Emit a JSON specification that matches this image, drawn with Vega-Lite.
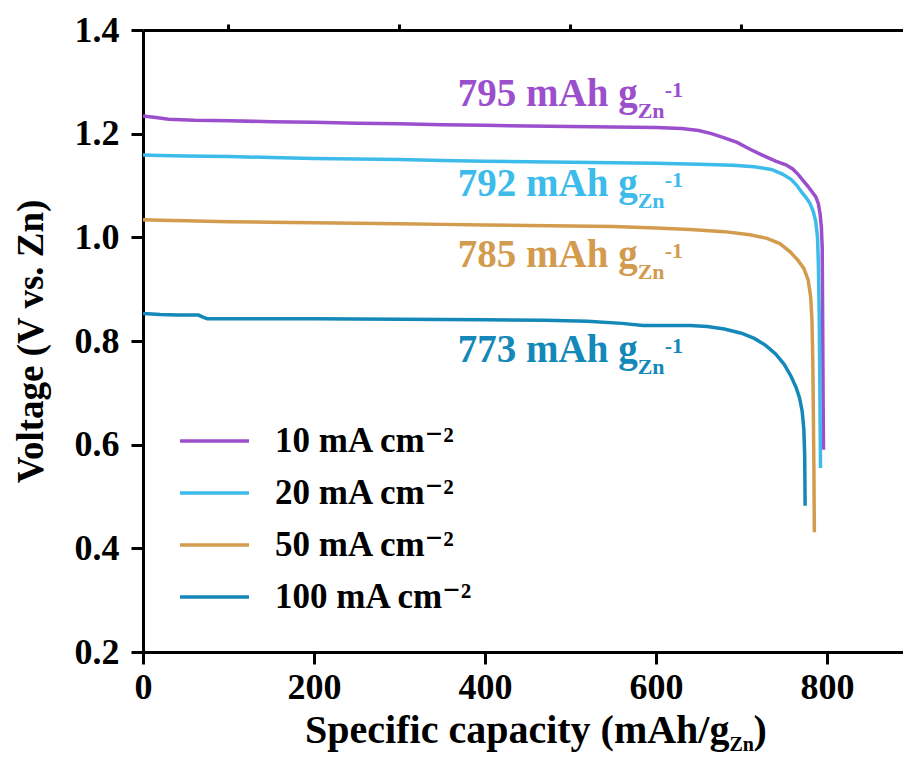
{
  "$schema": "https://vega.github.io/schema/vega-lite/v6.json",
  "width": 760,
  "height": 622,
  "autosize": {"type": "none"},
  "padding": {"left": 143, "top": 30, "right": 0, "bottom": 114},
  "background": "white",
  "config": {
    "view": {"stroke": null},
    "font": "Times New Roman, Liberation Serif, DejaVu Serif, serif",
    "axis": {
      "labelFont": "Times New Roman, Liberation Serif, DejaVu Serif, serif", "labelFontWeight": "bold", "labelColor": "black",
      "titleFont": "Times New Roman, Liberation Serif, DejaVu Serif, serif", "titleFontWeight": "bold", "titleColor": "black",
      "domainColor": "black", "tickColor": "black", "domainWidth": 3, "tickWidth": 3,
      "grid": false, "labelFlush": false
    },
    "text": {"font": "Times New Roman, Liberation Serif, DejaVu Serif, serif", "fontWeight": "bold"}
  },
  "datasets": {
    "curves": [
      {"s":"10 mA cm⁻²","i":1,"x":0,"y":1.234},{"s":"10 mA cm⁻²","i":2,"x":5,"y":1.233},{"s":"10 mA cm⁻²","i":3,"x":15,"y":1.231},{"s":"10 mA cm⁻²","i":4,"x":30,"y":1.228},{"s":"10 mA cm⁻²","i":5,"x":60,"y":1.226},{"s":"10 mA cm⁻²","i":6,"x":100,"y":1.225},{"s":"10 mA cm⁻²","i":7,"x":150,"y":1.223},{"s":"10 mA cm⁻²","i":8,"x":200,"y":1.222},{"s":"10 mA cm⁻²","i":9,"x":250,"y":1.22},{"s":"10 mA cm⁻²","i":10,"x":300,"y":1.219},{"s":"10 mA cm⁻²","i":11,"x":350,"y":1.217},{"s":"10 mA cm⁻²","i":12,"x":400,"y":1.216},{"s":"10 mA cm⁻²","i":13,"x":450,"y":1.215},{"s":"10 mA cm⁻²","i":14,"x":500,"y":1.214},{"s":"10 mA cm⁻²","i":15,"x":550,"y":1.213},{"s":"10 mA cm⁻²","i":16,"x":600,"y":1.212},{"s":"10 mA cm⁻²","i":17,"x":630,"y":1.21},{"s":"10 mA cm⁻²","i":18,"x":650,"y":1.206},{"s":"10 mA cm⁻²","i":19,"x":665,"y":1.2},{"s":"10 mA cm⁻²","i":20,"x":680,"y":1.192},{"s":"10 mA cm⁻²","i":21,"x":695,"y":1.183},{"s":"10 mA cm⁻²","i":22,"x":710,"y":1.17},{"s":"10 mA cm⁻²","i":23,"x":725,"y":1.158},{"s":"10 mA cm⁻²","i":24,"x":740,"y":1.147},{"s":"10 mA cm⁻²","i":25,"x":752,"y":1.14},{"s":"10 mA cm⁻²","i":26,"x":760,"y":1.132},{"s":"10 mA cm⁻²","i":27,"x":766,"y":1.122},{"s":"10 mA cm⁻²","i":28,"x":772,"y":1.11},{"s":"10 mA cm⁻²","i":29,"x":778,"y":1.098},{"s":"10 mA cm⁻²","i":30,"x":783,"y":1.087},{"s":"10 mA cm⁻²","i":31,"x":787,"y":1.078},{"s":"10 mA cm⁻²","i":32,"x":790,"y":1.065},{"s":"10 mA cm⁻²","i":33,"x":792,"y":1.045},{"s":"10 mA cm⁻²","i":34,"x":793.5,"y":1.02},{"s":"10 mA cm⁻²","i":35,"x":794.5,"y":0.98},{"s":"10 mA cm⁻²","i":36,"x":795,"y":0.85},{"s":"10 mA cm⁻²","i":37,"x":795.5,"y":0.7},{"s":"10 mA cm⁻²","i":38,"x":796,"y":0.59},
      {"s":"20 mA cm⁻²","i":1,"x":0,"y":1.159},{"s":"20 mA cm⁻²","i":2,"x":20,"y":1.158},{"s":"20 mA cm⁻²","i":3,"x":50,"y":1.157},{"s":"20 mA cm⁻²","i":4,"x":100,"y":1.156},{"s":"20 mA cm⁻²","i":5,"x":150,"y":1.154},{"s":"20 mA cm⁻²","i":6,"x":200,"y":1.152},{"s":"20 mA cm⁻²","i":7,"x":250,"y":1.151},{"s":"20 mA cm⁻²","i":8,"x":300,"y":1.15},{"s":"20 mA cm⁻²","i":9,"x":350,"y":1.148},{"s":"20 mA cm⁻²","i":10,"x":400,"y":1.147},{"s":"20 mA cm⁻²","i":11,"x":450,"y":1.146},{"s":"20 mA cm⁻²","i":12,"x":500,"y":1.145},{"s":"20 mA cm⁻²","i":13,"x":550,"y":1.144},{"s":"20 mA cm⁻²","i":14,"x":600,"y":1.143},{"s":"20 mA cm⁻²","i":15,"x":650,"y":1.141},{"s":"20 mA cm⁻²","i":16,"x":690,"y":1.139},{"s":"20 mA cm⁻²","i":17,"x":715,"y":1.136},{"s":"20 mA cm⁻²","i":18,"x":735,"y":1.131},{"s":"20 mA cm⁻²","i":19,"x":748,"y":1.122},{"s":"20 mA cm⁻²","i":20,"x":758,"y":1.112},{"s":"20 mA cm⁻²","i":21,"x":765,"y":1.1},{"s":"20 mA cm⁻²","i":22,"x":770,"y":1.088},{"s":"20 mA cm⁻²","i":23,"x":775,"y":1.078},{"s":"20 mA cm⁻²","i":24,"x":780,"y":1.066},{"s":"20 mA cm⁻²","i":25,"x":784,"y":1.05},{"s":"20 mA cm⁻²","i":26,"x":787,"y":1.03},{"s":"20 mA cm⁻²","i":27,"x":789,"y":1.0},{"s":"20 mA cm⁻²","i":28,"x":790,"y":0.95},{"s":"20 mA cm⁻²","i":29,"x":791,"y":0.85},{"s":"20 mA cm⁻²","i":30,"x":791.8,"y":0.7},{"s":"20 mA cm⁻²","i":31,"x":792.5,"y":0.555},
      {"s":"50 mA cm⁻²","i":1,"x":0,"y":1.034},{"s":"50 mA cm⁻²","i":2,"x":20,"y":1.033},{"s":"50 mA cm⁻²","i":3,"x":50,"y":1.032},{"s":"50 mA cm⁻²","i":4,"x":100,"y":1.03},{"s":"50 mA cm⁻²","i":5,"x":150,"y":1.029},{"s":"50 mA cm⁻²","i":6,"x":200,"y":1.028},{"s":"50 mA cm⁻²","i":7,"x":250,"y":1.027},{"s":"50 mA cm⁻²","i":8,"x":300,"y":1.026},{"s":"50 mA cm⁻²","i":9,"x":350,"y":1.025},{"s":"50 mA cm⁻²","i":10,"x":400,"y":1.024},{"s":"50 mA cm⁻²","i":11,"x":450,"y":1.023},{"s":"50 mA cm⁻²","i":12,"x":500,"y":1.022},{"s":"50 mA cm⁻²","i":13,"x":550,"y":1.021},{"s":"50 mA cm⁻²","i":14,"x":600,"y":1.018},{"s":"50 mA cm⁻²","i":15,"x":640,"y":1.015},{"s":"50 mA cm⁻²","i":16,"x":680,"y":1.011},{"s":"50 mA cm⁻²","i":17,"x":710,"y":1.005},{"s":"50 mA cm⁻²","i":18,"x":730,"y":0.998},{"s":"50 mA cm⁻²","i":19,"x":745,"y":0.988},{"s":"50 mA cm⁻²","i":20,"x":757,"y":0.972},{"s":"50 mA cm⁻²","i":21,"x":766,"y":0.956},{"s":"50 mA cm⁻²","i":22,"x":773,"y":0.94},{"s":"50 mA cm⁻²","i":23,"x":778,"y":0.918},{"s":"50 mA cm⁻²","i":24,"x":781,"y":0.885},{"s":"50 mA cm⁻²","i":25,"x":782.5,"y":0.84},{"s":"50 mA cm⁻²","i":26,"x":783.5,"y":0.76},{"s":"50 mA cm⁻²","i":27,"x":784.2,"y":0.65},{"s":"50 mA cm⁻²","i":28,"x":784.8,"y":0.55},{"s":"50 mA cm⁻²","i":29,"x":785.3,"y":0.431},
      {"s":"100 mA cm⁻²","i":1,"x":0,"y":0.853},{"s":"100 mA cm⁻²","i":2,"x":20,"y":0.851},{"s":"100 mA cm⁻²","i":3,"x":40,"y":0.85},{"s":"100 mA cm⁻²","i":4,"x":65,"y":0.85},{"s":"100 mA cm⁻²","i":5,"x":70,"y":0.846},{"s":"100 mA cm⁻²","i":6,"x":75,"y":0.843},{"s":"100 mA cm⁻²","i":7,"x":120,"y":0.843},{"s":"100 mA cm⁻²","i":8,"x":200,"y":0.843},{"s":"100 mA cm⁻²","i":9,"x":300,"y":0.842},{"s":"100 mA cm⁻²","i":10,"x":400,"y":0.841},{"s":"100 mA cm⁻²","i":11,"x":470,"y":0.84},{"s":"100 mA cm⁻²","i":12,"x":520,"y":0.838},{"s":"100 mA cm⁻²","i":13,"x":560,"y":0.834},{"s":"100 mA cm⁻²","i":14,"x":585,"y":0.83},{"s":"100 mA cm⁻²","i":15,"x":610,"y":0.83},{"s":"100 mA cm⁻²","i":16,"x":640,"y":0.83},{"s":"100 mA cm⁻²","i":17,"x":660,"y":0.828},{"s":"100 mA cm⁻²","i":18,"x":680,"y":0.823},{"s":"100 mA cm⁻²","i":19,"x":700,"y":0.815},{"s":"100 mA cm⁻²","i":20,"x":715,"y":0.805},{"s":"100 mA cm⁻²","i":21,"x":728,"y":0.792},{"s":"100 mA cm⁻²","i":22,"x":740,"y":0.775},{"s":"100 mA cm⁻²","i":23,"x":750,"y":0.755},{"s":"100 mA cm⁻²","i":24,"x":758,"y":0.732},{"s":"100 mA cm⁻²","i":25,"x":764,"y":0.71},{"s":"100 mA cm⁻²","i":26,"x":768,"y":0.69},{"s":"100 mA cm⁻²","i":27,"x":771,"y":0.665},{"s":"100 mA cm⁻²","i":28,"x":773,"y":0.63},{"s":"100 mA cm⁻²","i":29,"x":774,"y":0.58},{"s":"100 mA cm⁻²","i":30,"x":774.5,"y":0.482}
    ],
    "notes": [
      {"s":"10 mA cm⁻²","x":578.6,"y":1.2534,"main":"795 mAh g"},
      {"s":"20 mA cm⁻²","x":578.6,"y":1.0797,"main":"792 mAh g"},
      {"s":"50 mA cm⁻²","x":578.6,"y":0.9428,"main":"785 mAh g"},
      {"s":"100 mA cm⁻²","x":578.6,"y":0.7595,"main":"773 mAh g"}
    ],
    "xtitle": [{"x":686,"y":0.0244,"main":"Specific capacity (mAh/g"}],
    "minor": [{"mx":100,"my":0.3}]
  },
  "resolve": {"axis": {"x": "independent", "y": "independent"}},
  "layer": [
    {
      "data": {"name": "curves"},
      "mark": {"type": "line", "strokeWidth": 3.5},
      "encoding": {
        "x": {"field": "x", "type": "quantitative",
          "scale": {"domain": [0, 889], "nice": false, "zero": false},
          "axis": {"values": [0, 200, 400, 600, 800], "tickSize": 12, "labelPadding": 6, "labelFontSize": 36, "title": null}},
        "y": {"field": "y", "type": "quantitative",
          "scale": {"domain": [0.2, 1.4], "nice": false, "zero": false},
          "axis": {"values": [0.2, 0.4, 0.6, 0.8, 1.0, 1.2, 1.4], "format": ".1f", "tickSize": 12, "labelPadding": 12, "labelFontSize": 36,
            "title": "Voltage (V vs. Zn)", "titleFontSize": 37, "titlePadding": 24}},
        "color": {"field": "s", "type": "nominal",
          "scale": {"domain": ["10 mA cm⁻²", "20 mA cm⁻²", "50 mA cm⁻²", "100 mA cm⁻²"], "range": ["#9B4FCC", "#3DBBEA", "#D39B4E", "#1488B8"]},
          "legend": {"orient": "none", "legendX": 35, "legendY": 395, "title": null, "padding": 0,
            "symbolType": "stroke", "symbolSize": 4761, "symbolStrokeWidth": 3.5, "clipHeight": 32, "rowPadding": 17,
            "labelFontSize": 35, "labelFont": "Times New Roman, Liberation Serif, DejaVu Serif, serif", "labelFontWeight": "bold", "labelColor": "black", "labelOffset": 24, "labelLimit": 400}},
        "order": {"field": "i", "type": "quantitative"}
      }
    },
    {
      "data": {"name": "minor"},
      "mark": {"type": "point", "opacity": 0},
      "encoding": {
        "x": {"field": "mx", "type": "quantitative", "axis": {"values": [100, 300, 500, 700], "tickSize": 6, "labels": false, "domain": false, "title": null}},
        "y": {"field": "my", "type": "quantitative", "axis": {"values": [0.3, 0.5, 0.7, 0.9, 1.1, 1.3], "tickSize": 6, "labels": false, "domain": false, "title": null}}
      }
    },
    {
      "data": {"name": "minor"},
      "mark": {"type": "point", "opacity": 0},
      "encoding": {
        "x": {"field": "mx", "type": "quantitative", "axis": {"orient": "top", "ticks": false, "labels": false, "domain": true, "title": null}},
        "y": {"field": "my", "type": "quantitative", "axis": null}
      }
    },
    {
      "data": {"name": "notes"},
      "mark": {"type": "text", "align": "right", "baseline": "alphabetic", "fontSize": 39},
      "encoding": {
        "x": {"field": "x", "type": "quantitative", "axis": null},
        "y": {"field": "y", "type": "quantitative", "axis": null},
        "text": {"field": "main"},
        "color": {"field": "s", "type": "nominal", "legend": null}
      }
    },
    {
      "data": {"name": "notes"},
      "mark": {"type": "text", "align": "left", "baseline": "alphabetic", "fontSize": 22, "dy": 12},
      "encoding": {
        "x": {"field": "x", "type": "quantitative", "axis": null},
        "y": {"field": "y", "type": "quantitative", "axis": null},
        "text": {"value": "Zn"},
        "color": {"field": "s", "type": "nominal", "legend": null}
      }
    },
    {
      "data": {"name": "notes"},
      "mark": {"type": "text", "align": "left", "baseline": "alphabetic", "fontSize": 22, "dx": 27, "dy": -9},
      "encoding": {
        "x": {"field": "x", "type": "quantitative", "axis": null},
        "y": {"field": "y", "type": "quantitative", "axis": null},
        "text": {"value": "-1"},
        "color": {"field": "s", "type": "nominal", "legend": null}
      }
    },
    {
      "data": {"name": "xtitle"},
      "mark": {"type": "text", "align": "right", "baseline": "alphabetic", "fontSize": 40, "color": "black"},
      "encoding": {
        "x": {"field": "x", "type": "quantitative", "axis": null},
        "y": {"field": "y", "type": "quantitative", "axis": null},
        "text": {"field": "main"}
      }
    },
    {
      "data": {"name": "xtitle"},
      "mark": {"type": "text", "align": "left", "baseline": "alphabetic", "fontSize": 20, "dy": 8, "color": "black"},
      "encoding": {
        "x": {"field": "x", "type": "quantitative", "axis": null},
        "y": {"field": "y", "type": "quantitative", "axis": null},
        "text": {"value": "Zn"}
      }
    },
    {
      "data": {"name": "xtitle"},
      "mark": {"type": "text", "align": "left", "baseline": "alphabetic", "fontSize": 40, "dx": 24, "color": "black"},
      "encoding": {
        "x": {"field": "x", "type": "quantitative", "axis": null},
        "y": {"field": "y", "type": "quantitative", "axis": null},
        "text": {"value": ")"}
      }
    }
  ]
}
